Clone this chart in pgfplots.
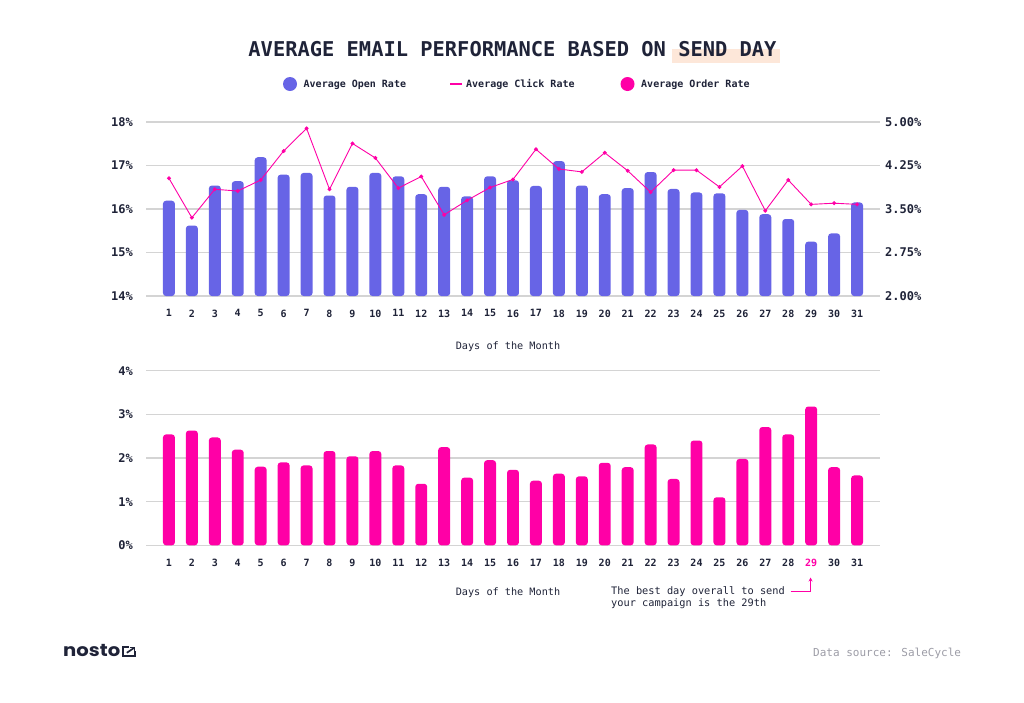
\documentclass[border=0pt]{standalone}
\usepackage{fontspec}
\setmainfont{DejaVu Sans Mono}
\newfontfamily\logofont{Poppins}
\usepackage{graphicx}
\usepackage{pgfplots}
\usepackage{pgfplotstable}
\pgfplotsset{compat=1.18}
\usetikzlibrary{arrows.meta}
\definecolor{navy}{HTML}{1F2338}
\definecolor{openblue}{HTML}{6764E6}
\definecolor{pinkc}{HTML}{FF00A6}
\definecolor{gridc}{HTML}{D4D4D4}
\definecolor{peach}{HTML}{FDE7D9}
\definecolor{srcgray}{HTML}{9C9CA6}

\pgfplotstableread{
day open click order
1 16.19 4.03 2.54
2 15.62 3.35 2.63
3 16.54 3.84 2.47
4 16.64 3.81 2.19
5 17.19 4.00 1.80
6 16.79 4.50 1.90
7 16.83 4.89 1.83
8 16.31 3.84 2.16
9 16.51 4.63 2.04
10 16.83 4.38 2.16
11 16.75 3.86 1.83
12 16.34 4.06 1.41
13 16.51 3.40 2.25
14 16.29 3.65 1.55
15 16.75 3.87 1.95
16 16.66 4.01 1.73
17 16.53 4.53 1.48
18 17.10 4.19 1.64
19 16.54 4.14 1.58
20 16.34 4.47 1.89
21 16.48 4.16 1.79
22 16.85 3.79 2.31
23 16.46 4.17 1.52
24 16.38 4.17 2.40
25 16.36 3.88 1.10
26 15.98 4.24 1.98
27 15.88 3.47 2.71
28 15.77 4.00 2.54
29 15.25 3.58 3.18
30 15.44 3.60 1.79
31 16.15 3.58 1.60
}\data

\pgfplotsset{
  base/.style={
    scale only axis, width=734pt, xmin=0, xmax=32,
    xtick={1,2,...,31},
    axis line style={draw=none},
    major tick length=0pt,
    tick style={draw=none},
    /pgf/number format/assume math mode=true,
    ticklabel style={text=navy},
    yticklabel style={font=\fontsize{12}{14}\selectfont\bfseries, inner sep=0pt},
    xticklabel style={font=\fontsize{10}{12}\selectfont\bfseries, inner sep=0pt, yshift=-13.5pt},
    grid style={gridc, line width=1.2pt},
  },
}

\begin{document}
\begin{tikzpicture}
\path[use as bounding box] (0pt,0pt) rectangle (1024pt,-702pt);

% top chart: open rate bars
\begin{axis}[base, at={(146pt,-296pt)}, anchor=south west, height=174pt,
  ymin=14, ymax=18, ytick={14,15,16,17,18},
  yticklabel={\pgfmathprintnumber{\tick}\%},
  yticklabel style={xshift=-13pt},
  xticklabels={1,2,3,4,5,6,7,8,9,10,11,12,13,14,15,16,17,18,19,20,21,22,23,24,25,26,27,28,29,30,31},
  ymajorgrids, ybar, bar width=0.52]
\addplot[fill=openblue, draw=none, rounded corners=3pt] table[x=day, y=open] {\data};
\end{axis}

% top chart: click rate line (right axis)
\begin{axis}[base, at={(146pt,-296pt)}, anchor=south west, height=174pt,
  ymin=2, ymax=5, ytick={2,2.75,3.5,4.25,5},
  yticklabel pos=right,
  yticklabel={\pgfmathprintnumber[fixed,fixed zerofill,precision=2]{\tick}\%},
  yticklabel style={xshift=5pt},
  xtick=\empty]
\addplot[pinkc, line width=0.9pt, mark=*, mark size=1.5pt] table[x=day, y=click] {\data};
\end{axis}

% bottom chart: order rate bars
\begin{axis}[base, at={(146pt,-545.3pt)}, anchor=south west, height=174.6pt,
  ymin=0, ymax=4, ytick={0,1,2,3,4},
  yticklabel={\pgfmathprintnumber{\tick}\%},
  yticklabel style={xshift=-13pt},
  xticklabels={1,2,3,4,5,6,7,8,9,10,11,12,13,14,15,16,17,18,19,20,21,22,23,24,25,26,27,28,{\textcolor{pinkc}{29}},30,31},
  ymajorgrids, ybar, bar width=0.52]
\addplot[fill=pinkc, draw=none, rounded corners=3pt] table[x=day, y=order] {\data};
\end{axis}

\begin{scope}[x=1pt, y=-1pt]
% title
\fill[peach] (672,49) rectangle (780,63);
\node[anchor=base, inner sep=0pt, text=navy, font=\fontsize{20.4}{24}\selectfont\bfseries] at (512.5,56) {AVERAGE EMAIL PERFORMANCE BASED ON SEND DAY};
% legend
\fill[openblue] (290,84) circle (7);
\node[anchor=base west, inner sep=0pt, text=navy, font=\fontsize{10}{12}\selectfont\bfseries] at (303.5,87.8) {Average Open Rate};
\draw[pinkc, line width=1.6pt] (450,84) -- (462,84);
\node[anchor=base west, inner sep=0pt, text=navy, font=\fontsize{10}{12}\selectfont\bfseries] at (466,87.8) {Average Click Rate};
\fill[pinkc] (627.5,84) circle (7);
\node[anchor=base west, inner sep=0pt, text=navy, font=\fontsize{10}{12}\selectfont\bfseries] at (641,87.8) {Average Order Rate};
% axis titles
\node[anchor=base, inner sep=0pt, text=navy, font=\fontsize{10.2}{12}\selectfont] at (508,349.5) {Days of the Month};
\node[anchor=base, inner sep=0pt, text=navy, font=\fontsize{10.2}{12}\selectfont] at (508,595) {Days of the Month};
% annotation
\node[anchor=base west, inner sep=0pt, text=navy, font=\fontsize{10.3}{12}\selectfont] at (611,594.5) {The best day overall to send};
\node[anchor=base west, inner sep=0pt, text=navy, font=\fontsize{10.3}{12}\selectfont] at (611,606.5) {your campaign is the 29th};
\draw[pinkc, line width=1pt, -{Stealth[length=4pt,width=4pt]}] (790.5,591) -- (810.5,591) -- (810.5,577.5);
% footer
\node[anchor=base west, inner sep=0pt, text=navy] at (63,656.5) {\scalebox{1.12}[1]{\logofont\fontsize{17.5}{18}\selectfont\bfseries nosto}};
\draw[navy, line width=1.7pt] (128.5,647) -- (122.8,647) -- (122.8,656.3) -- (135,656.3) -- (135,650.5);
\draw[navy, line width=1.7pt] (126.8,652.8) -- (134.2,647.8);
\draw[navy, line width=1.7pt] (129.8,647.6) -- (134.5,647.6) -- (134.5,652);
\node[anchor=base west, inner sep=0pt, text=srcgray, font=\fontsize{11}{13}\selectfont] at (813,656.5) {Data source: SaleCycle};
\end{scope}
\end{tikzpicture}
\end{document}
